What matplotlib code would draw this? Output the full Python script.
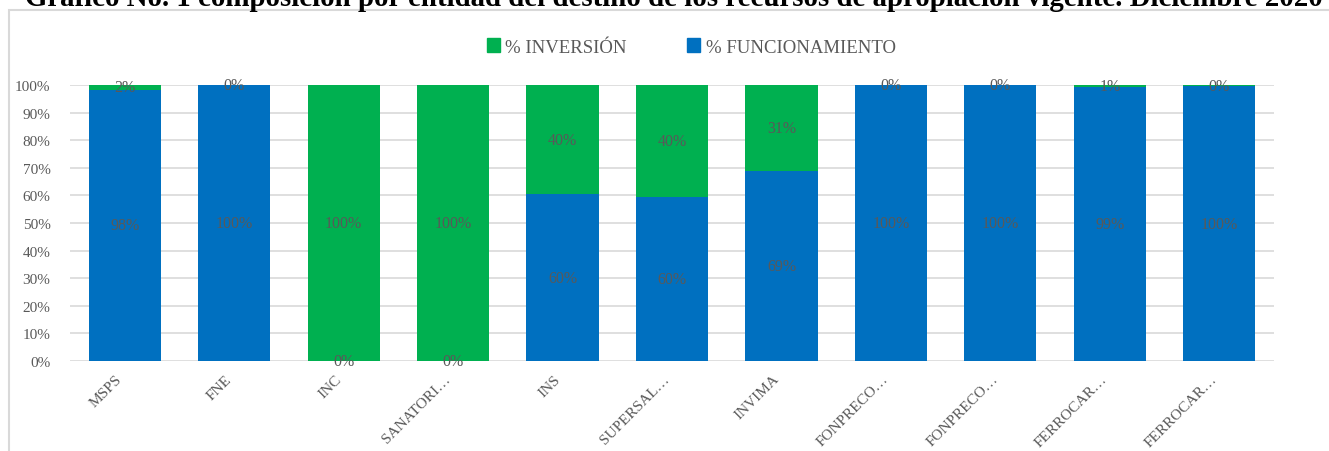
import numpy as np
import matplotlib
matplotlib.use("Agg")
import matplotlib.pyplot as plt
from matplotlib.patches import Rectangle, Patch

entidades = ["MSPS", "FNE", "INC", "SANATORI…", "INS", "SUPERSAL…", "INVIMA",
             "FONPRECO…", "FONPRECO…", "FERROCAR…", "FERROCAR…"]
funcionamiento = [98.3, 100.0, 0.0, 0.0, 60.4, 59.6, 68.7, 100.0, 100.0, 99.3, 99.6]
inversion = [1.7, 0.0, 100.0, 100.0, 39.6, 40.4, 31.3, 0.0, 0.0, 0.7, 0.4]

titulo = ("Gráfico No. 1 composición por entidad del destino de los recursos "
          "de apropiación vigente. Diciembre 2020")

AZUL = "#0070C0"
VERDE = "#00B050"
GRIS = "#595959"

plt.rcParams['font.family'] = ['Liberation Serif', 'DejaVu Serif']

W, H = 1329, 452
fig = plt.figure(figsize=(W / 100, H / 100), dpi=100)

# marco del grafico (solo se ven los bordes superior e izquierdo)
fig.patches.append(Rectangle((9 / W, -0.1), 1.2, 1 - 11 / H + 0.1,
                             transform=fig.transFigure, fill=False,
                             edgecolor="#D9D9D9", linewidth=1.5))

# titulo recortado por arriba, como en el original
fig.text(0.507, 1 - 6 / H, titulo, ha="center", va="baseline",
         fontsize=20.8, fontweight="bold", color="black")

ax = fig.add_axes([70 / W, 1 - 362 / H, (1274 - 70) / W, (362 - 86) / H])

x = np.arange(len(entidades))
f = np.array(funcionamiento) / 100
i = np.array(inversion) / 100
b1 = ax.bar(x, f, width=0.66, color=AZUL, zorder=3)
b2 = ax.bar(x, i, width=0.66, bottom=f, color=VERDE, zorder=3)

for barras, vals in [(b1, funcionamiento), (b2, inversion)]:
    for rect, v in zip(barras, vals):
        cy = rect.get_y() + rect.get_height() / 2
        ax.text(rect.get_x() + rect.get_width() / 2, cy, f"{round(v):.0f}%",
                ha="center", va="center", fontsize=11.5, color=GRIS, zorder=4)

ax.set_xlim(-0.5, len(entidades) - 0.5)
ax.set_ylim(0, 1)
ax.set_yticks(np.arange(0, 1.01, 0.1))
ax.set_yticklabels([f"{int(round(t * 100))}%" for t in np.arange(0, 1.01, 0.1)])
ax.set_xticks(x)
ax.set_xticklabels(entidades, rotation=45, ha="right")
ax.tick_params(axis="both", length=0, labelsize=11, labelcolor=GRIS)
ax.tick_params(axis="y", pad=14)
ax.tick_params(axis="x", pad=8)
ax.yaxis.grid(True, color="#D9D9D9", linewidth=1.2, zorder=0)
for s in ax.spines.values():
    s.set_visible(False)

handles = [Patch(color=VERDE), Patch(color=AZUL)]
fig.legend(handles, ["% INVERSIÓN", "% FUNCIONAMIENTO"], ncol=2,
           loc="center", bbox_to_anchor=(0.52, 1 - 48 / H), frameon=False,
           fontsize=13.5, labelcolor=GRIS, handlelength=0.7, handleheight=0.7,
           handletextpad=0.3, columnspacing=3.2)

fig.savefig("out.png", dpi=100)
